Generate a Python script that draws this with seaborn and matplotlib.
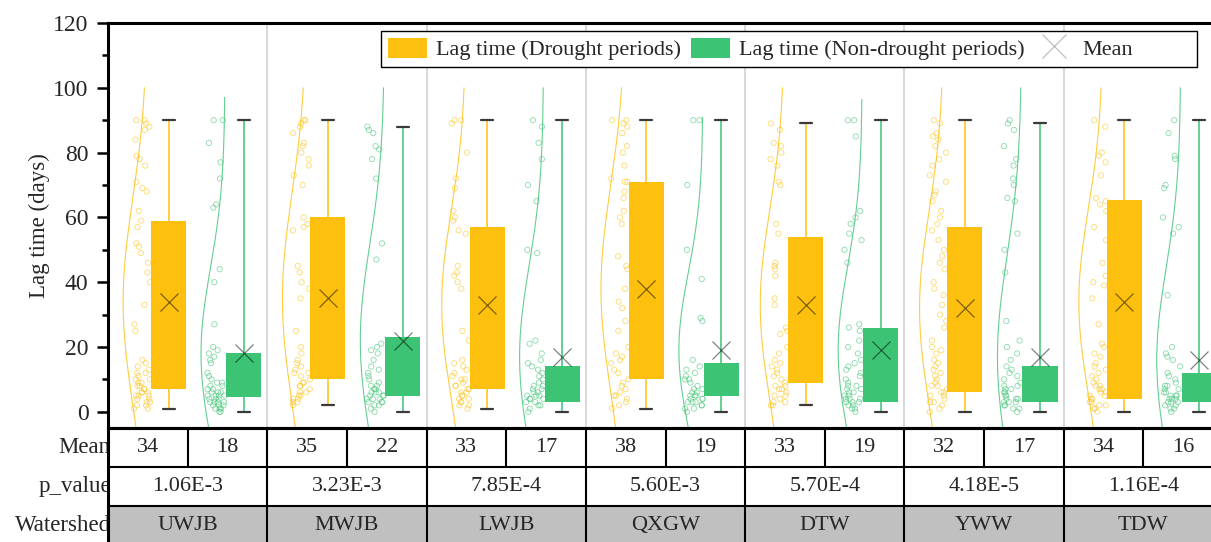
import numpy as np
import pandas as pd
import matplotlib
matplotlib.use("Agg")
import matplotlib.pyplot as plt
from matplotlib.patches import Patch
from matplotlib.lines import Line2D
from matplotlib.ticker import MultipleLocator, AutoMinorLocator
from matplotlib.colors import to_rgba
import seaborn as sns

# ---------------------------------------------------------------- data
watersheds = ["UWJB", "MWJB", "LWJB", "QXGW", "DTW", "YWW", "TDW"]
p_values = ["1.06E-3", "3.23E-3", "7.85E-4", "5.60E-3", "5.70E-4", "4.18E-5", "1.16E-4"]

mean_drought = [34, 35, 33, 38, 33, 32, 34]
mean_non = [18, 22, 17, 19, 19, 17, 16]

# box statistics: whisker low, first quartile, third quartile, whisker high
drought_lo = [1, 2, 1, 1, 2, 0, 0]
drought_q1 = [7, 10, 7, 10, 9, 6, 4]
drought_q3 = [59, 60, 57, 71, 54, 57, 65.5]
drought_hi = [90, 90, 90, 90, 89, 90, 90]

non_lo = [0, 0, 0, 0, 0, 0, 0]
non_q1 = [4.5, 5, 3, 5, 3, 3, 3]
non_q3 = [18, 23, 14, 15, 26, 14, 12]
non_hi = [90, 88, 90, 90, 90, 89, 90]

# individual lag times (days)
pts_drought = [
    [90, 90, 89, 88, 87, 84, 79, 78, 76, 71, 69, 68, 62, 59, 57, 52, 51, 49, 46, 43, 40, 33, 27,
     25, 16, 15, 14, 13, 12, 12, 11, 10, 10, 9, 9, 8, 8, 7, 7, 6, 6, 6, 5, 5, 5, 4, 4, 3, 3, 2, 2, 1, 1],
    [90, 90, 89, 88, 86, 83, 82, 80, 78, 76, 73, 70, 60, 58, 57, 56, 45, 43, 40, 38, 35, 25, 20,
     18, 16, 15, 14, 13, 12, 12, 11, 10, 9, 9, 8, 8, 7, 6, 6, 5, 5, 4, 4, 3, 3, 2],
    [90, 90, 89, 80, 72, 69, 62, 60, 59, 56, 55, 45, 43, 42, 40, 38, 25, 22, 16, 15, 14, 13, 12,
     11, 10, 10, 9, 8, 8, 7, 7, 6, 6, 5, 5, 4, 4, 3, 3, 2, 2, 1],
    [90, 90, 89, 88, 86, 82, 80, 76, 72, 71, 71, 68, 66, 62, 60, 58, 48, 45, 44, 38, 34, 32, 28,
     25, 20, 18, 17, 16, 15, 13, 12, 10, 9, 8, 7, 6, 5, 5, 4, 3, 2, 1],
    [89, 87, 83, 82, 80, 78, 76, 71, 70, 58, 55, 46, 45, 44, 42, 35, 33, 26, 25, 24, 20, 18, 16,
     15, 14, 13, 12, 11, 10, 9, 8, 8, 7, 7, 6, 5, 5, 4, 3, 3, 2, 2],
    [90, 89, 86, 85, 84, 82, 80, 78, 76, 73, 71, 68, 67, 65, 62, 60, 58, 56, 53, 50, 48, 46, 44,
     40, 38, 36, 33, 30, 28, 26, 22, 20, 19, 18, 16, 15, 14, 13, 12, 11, 10, 9, 8, 8, 7, 6, 6, 5,
     5, 4, 3, 3, 2, 1, 0],
    [90, 88, 80, 79, 77, 73, 66, 65, 64, 62, 57, 53, 46, 42, 40, 39, 35, 27, 21, 20, 18, 17, 15,
     14, 13, 12, 11, 10, 9, 8, 8, 7, 7, 6, 6, 5, 5, 4, 4, 3, 3, 2, 2, 1, 1, 0],
]
pts_non = [
    [90, 90, 83, 77, 72, 64, 63, 44, 40, 27, 20, 19, 18, 17, 16, 15, 12, 11, 10, 9, 9, 8, 8, 7, 7,
     6, 6, 6, 5, 5, 5, 5, 4, 4, 4, 3, 3, 3, 3, 2, 2, 2, 1, 1, 1, 0, 0],
    [88, 87, 86, 82, 81, 78, 72, 52, 47, 21, 20, 19, 18, 16, 14, 13, 12, 11, 10, 9, 8, 8, 7, 7, 6,
     6, 6, 5, 5, 5, 4, 4, 4, 3, 3, 3, 2, 2, 1, 0],
    [90, 88, 83, 78, 70, 65, 50, 49, 22, 21, 18, 16, 15, 14, 13, 12, 11, 10, 9, 8, 8, 7, 7, 6, 6,
     5, 5, 5, 4, 4, 4, 3, 3, 2, 2, 1, 0],
    [90, 90, 70, 50, 41, 29, 28, 16, 14, 13, 12, 11, 10, 10, 9, 8, 7, 7, 6, 6, 5, 5, 5, 4, 4, 4,
     3, 3, 3, 2, 2, 1, 1, 0],
    [90, 90, 85, 62, 60, 58, 55, 53, 50, 46, 27, 26, 25, 22, 20, 18, 16, 15, 14, 13, 12, 11, 10,
     9, 8, 8, 7, 7, 6, 6, 5, 5, 4, 4, 4, 3, 3, 3, 2, 2, 1, 1, 0],
    [90, 89, 87, 82, 78, 76, 72, 70, 66, 65, 55, 50, 43, 28, 22, 20, 18, 16, 14, 13, 12, 11, 10,
     9, 8, 8, 7, 7, 6, 6, 5, 5, 4, 4, 4, 3, 3, 3, 2, 2, 1, 1, 0],
    [90, 86, 79, 78, 70, 69, 60, 57, 55, 36, 20, 18, 17, 16, 14, 12, 11, 10, 9, 8, 8, 7, 7, 6, 6,
     5, 5, 5, 4, 4, 4, 3, 3, 3, 2, 2, 1, 1, 0],
]

# ---------------------------------------------------------------- style
sns.set_style("white")
plt.rcParams["font.family"] = ["Liberation Serif", "DejaVu Serif"]
plt.rcParams["font.size"] = 16

YELLOW = "#FEC00F"
GREEN = "#3CC373"

W_PX, H_PX = 1211, 542
fig = plt.figure(figsize=(W_PX / 100, H_PX / 100), dpi=100)

# plot area runs a little past the right edge of the canvas
ax_left, ax_right = 108, 1223
ax_top, ax_bot = 23, 428
tab_bot = 545
ax = fig.add_axes([ax_left / W_PX, 1 - ax_bot / H_PX,
                   (ax_right - ax_left) / W_PX, (ax_bot - ax_top) / H_PX])
tab = fig.add_axes([ax_left / W_PX, 1 - tab_bot / H_PX,
                    (ax_right - ax_left) / W_PX, (tab_bot - ax_bot) / H_PX])

n = len(watersheds)
idx = np.arange(n)

series = [
    dict(label="Lag time (Drought periods)", color=YELLOW, pts=pts_drought, mean=mean_drought,
         lo=drought_lo, q1=drought_q1, q3=drought_q3, hi=drought_hi,
         box_off=-0.12, curve_off=-0.255, pts_off=-0.287),
    dict(label="Lag time (Non-drought periods)", color=GREEN, pts=pts_non, mean=mean_non,
         lo=non_lo, q1=non_q1, q3=non_q3, hi=non_hi,
         box_off=0.351, curve_off=0.234, pts_off=0.178),
]

# group separators
for x in idx[:-1] + 0.5:
    ax.axvline(x, color="#d2d2d2", lw=1.2, zorder=0)

for s in series:
    col = s["color"]

    # fitted normal curve drawn as a half outline to the left of each box
    for i in idx:
        d = np.asarray(s["pts"][i], dtype=float)
        mu = s["mean"][i]
        sd = d.std(ddof=1)
        yy = np.linspace(-10, min(100, mu + 3 * sd), 300)
        xx = i + s["curve_off"] - 0.15 * np.exp(-0.5 * ((yy - mu) / sd) ** 2)
        ax.plot(xx, yy, color=col, lw=0.8, alpha=0.8, zorder=1)

    # raw observations
    df = pd.DataFrame({
        "pos": np.concatenate([np.full(len(p), i + s["pts_off"]) for i, p in enumerate(s["pts"])]),
        "lag": np.concatenate([np.asarray(p, dtype=float) for p in s["pts"]]),
    })
    before = len(ax.collections)
    sns.stripplot(data=df, x="pos", y="lag", native_scale=True, orient="x",
                  jitter=0.055, size=3.8, color=col, linewidth=0.6, ax=ax, zorder=3)
    for c in ax.collections[before:]:
        c.set_facecolor("none")
        c.set_edgecolor(to_rgba(col, 0.6))

    # boxes with whiskers and mean markers
    stats = [dict(whislo=s["lo"][i], q1=s["q1"][i], med=s["q1"][i], q3=s["q3"][i],
                  whishi=s["hi"][i], mean=s["mean"][i]) for i in idx]
    ax.bxp(stats, positions=idx + s["box_off"], widths=0.22, capwidths=0.075,
           patch_artist=True, showmeans=True, showfliers=False, manage_ticks=False,
           boxprops=dict(facecolor=col, edgecolor=col, linewidth=0),
           whiskerprops=dict(color=to_rgba(col, 0.85), linewidth=1.3),
           capprops=dict(color="#3a3a3a", linewidth=1.6),
           medianprops=dict(linewidth=0),
           meanprops=dict(marker="x", markersize=13, markeredgecolor=(0, 0, 0, 0.5),
                          markeredgewidth=0.9, markerfacecolor="none"))

# axes
ax.set_xlim(-0.5, n - 0.5)
ax.set_ylim(-5, 120)
ax.set_xticks([])
ax.set_xlabel("")
ax.set_ylabel("Lag time (days)", fontsize=16.5, labelpad=2)
ax.yaxis.set_major_locator(MultipleLocator(20))
ax.yaxis.set_minor_locator(AutoMinorLocator(2))
ax.tick_params(axis="y", which="major", direction="out", length=8, width=1.8,
               pad=6, labelsize=17, left=True, color="black")
ax.tick_params(axis="y", which="minor", direction="out", length=4.3, width=1.8,
               left=True, color="black")
for side in ["left", "top", "bottom"]:
    ax.spines[side].set_color("black")
    ax.spines[side].set_linewidth(2.2)
ax.spines["right"].set_visible(False)

# legend (the trailing blank entry leaves room after "Mean")
handles = [
    Patch(facecolor=YELLOW, edgecolor="none"),
    Patch(facecolor=GREEN, edgecolor="none"),
    Line2D([], [], ls="none", marker="x", markersize=17, markeredgecolor="#c4c4c4",
           markeredgewidth=1.0),
    Line2D([], [], ls="none"),
]
labels = [series[0]["label"], series[1]["label"], "Mean", ""]
leg = ax.legend(handles, labels, loc="upper right",
                bbox_to_anchor=(1197 / W_PX, 1 - 31 / H_PX), bbox_transform=fig.transFigure,
                ncol=4, frameon=True, fancybox=False, edgecolor="black", framealpha=1,
                borderaxespad=0, handlelength=1.75, handleheight=1.0, handletextpad=0.4,
                columnspacing=0.45, borderpad=0.3, fontsize=16)
leg.get_frame().set_linewidth(1.0)

# summary table under the plot
tab.set_xlim(-0.5, n - 0.5)
tab.set_ylim(0, 3)
tab.axis("off")
tab.axhspan(0, 1, color="#c0c0c0", zorder=0)
tab.hlines([1, 2], -0.5, n - 0.5, color="black", lw=1.5, zorder=3, clip_on=False)
tab.hlines([3], -0.5, n - 0.5, color="black", lw=2.2, zorder=3, clip_on=False)
tab.vlines(idx[1:] - 0.5, 0, 3, color="black", lw=1.5, zorder=3, clip_on=False)
tab.vlines(idx, 2, 3, color="black", lw=1.5, zorder=3, clip_on=False)
tab.vlines([-0.5], 0, 3, color="black", lw=2.2, zorder=3, clip_on=False)
tab.vlines([n - 0.5], 0, 3, color="black", lw=1.5, zorder=3, clip_on=False)

for i in idx:
    tab.text(i - 0.25, 2.5, str(mean_drought[i]), ha="center", va="center", fontsize=16)
    tab.text(i + 0.25, 2.5, str(mean_non[i]), ha="center", va="center", fontsize=16)
    tab.text(i, 1.5, p_values[i], ha="center", va="center", fontsize=16)
    tab.text(i, 0.5, watersheds[i], ha="center", va="center", fontsize=16)

for y, lab in [(2.5, "Mean"), (1.5, "p_value"), (0.5, "Watershed")]:
    tab.annotate(lab, xy=(-0.5, y), xytext=(2, 0), textcoords="offset points",
                 ha="right", va="center", fontsize=16.5, zorder=1, annotation_clip=False)

fig.savefig("out.png", dpi=100)
